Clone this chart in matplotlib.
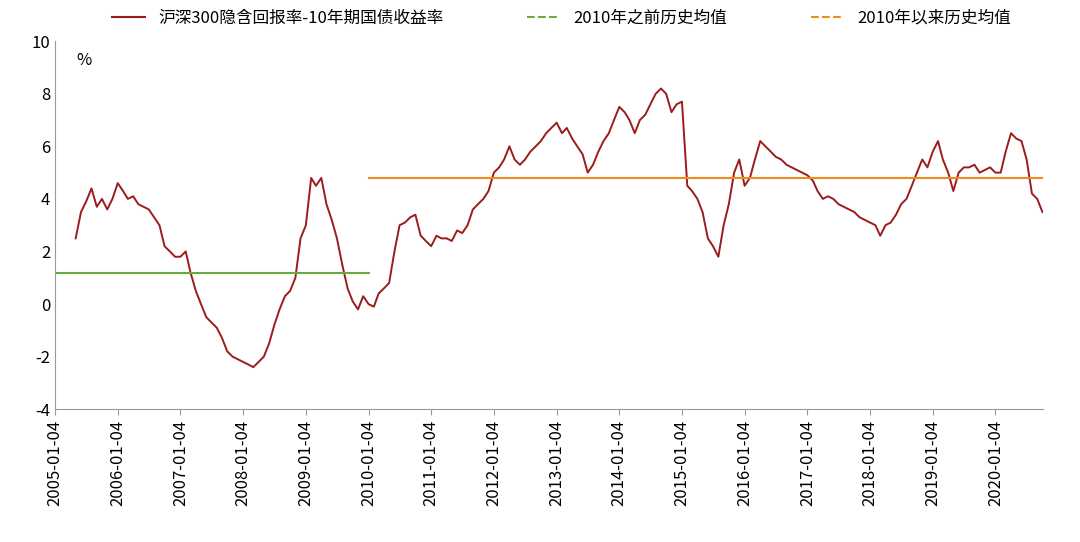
import pandas as pd
import matplotlib
matplotlib.use("Agg")
import matplotlib.pyplot as plt
from matplotlib import font_manager
from matplotlib.lines import Line2D

# pick up an installed CJK font by file name
cjk = [f for f in font_manager.findSystemFonts() if 'CJK' in f or 'cjk' in f]
fam = 'DejaVu Sans'
for f in sorted(cjk, key=lambda p: ('SC' not in p, p)):
    try:
        font_manager.fontManager.addfont(f)
        fam = font_manager.FontProperties(fname=f).get_name()
        break
    except Exception:
        pass
plt.rcParams['font.family'] = [fam, 'DejaVu Sans']
plt.rcParams['axes.unicode_minus'] = False

# monthly values (start 2005-04)
values = [
    2.5, 3.5, 3.9, 4.4, 3.7, 4.0, 3.6, 4.0, 4.6,                      # 2005 Apr-Dec
    4.3, 4.0, 4.1, 3.8, 3.7, 3.6, 3.3, 3.0, 2.2, 2.0, 1.8, 1.8,         # 2006
    2.0, 1.2, 0.5, 0.0, -0.5, -0.7, -0.9, -1.3, -1.8, -2.0, -2.1, -2.2, # 2007
    -2.3, -2.4, -2.2, -2.0, -1.5, -0.8, -0.2, 0.3, 0.5, 1.0, 2.5, 3.0,  # 2008
    4.8, 4.5, 4.8, 3.8, 3.2, 2.5, 1.5, 0.6, 0.1, -0.2, 0.3, 0.0,        # 2009
    -0.1, 0.4, 0.6, 0.8, 2.0, 3.0, 3.1, 3.3, 3.4, 2.6, 2.4, 2.2,        # 2010
    2.6, 2.5, 2.5, 2.4, 2.8, 2.7, 3.0, 3.6, 3.8, 4.0, 4.3, 5.0,         # 2011
    5.2, 5.5, 6.0, 5.5, 5.3, 5.5, 5.8, 6.0, 6.2, 6.5, 6.7, 6.9,         # 2012
    6.5, 6.7, 6.3, 6.0, 5.7, 5.0, 5.3, 5.8, 6.2, 6.5, 7.0, 7.5,         # 2013
    7.3, 7.0, 6.5, 7.0, 7.2, 7.6, 8.0, 8.2, 8.0, 7.3, 7.6, 7.7,         # 2014
    4.5, 4.3, 4.0, 3.5, 2.5, 2.2, 1.8, 3.0, 3.8, 5.0, 5.5, 4.5,         # 2015
    4.8, 5.5, 6.2, 6.0, 5.8, 5.6, 5.5, 5.3, 5.2, 5.1, 5.0, 4.9,         # 2016
    4.7, 4.3, 4.0, 4.1, 4.0, 3.8, 3.7, 3.6, 3.5, 3.3, 3.2, 3.1,         # 2017
    3.0, 2.6, 3.0, 3.1, 3.4, 3.8, 4.0, 4.5, 5.0, 5.5, 5.2, 5.8,         # 2018
    6.2, 5.5, 5.0, 4.3, 5.0, 5.2, 5.2, 5.3, 5.0, 5.1, 5.2, 5.0,         # 2019
    5.0, 5.8, 6.5, 6.3, 6.2, 5.5, 4.2, 4.0, 3.5,                       # 2020 Jan-Sep
]
dates = pd.date_range("2005-04-04", periods=len(values), freq="MS") + pd.Timedelta(days=3)
mean_before = 1.2
mean_after = 4.8
labels = ['沪深300隐含回报率-10年期国债收益率', '2010年之前历史均值', '2010年以来历史均值']

fig = plt.figure(figsize=(10.8, 5.42), dpi=100)
ax = fig.add_axes([0.051, 0.245, 0.915, 0.679])

ax.plot(dates, values, color='#9b1c1c', lw=1.4)
ax.plot([pd.Timestamp("2005-01-04"), pd.Timestamp("2010-01-04")], [mean_before] * 2,
        color='#6aaa3a', lw=1.5)
ax.plot([pd.Timestamp("2010-01-04"), dates[-1]], [mean_after] * 2,
        color='#f08a1c', lw=1.5)

ax.set_xlim(pd.Timestamp("2005-01-04"), dates[-1] + pd.Timedelta(days=5))
ax.set_ylim(-4, 10)
ax.set_yticks(range(-4, 11, 2))
ticks = [pd.Timestamp(f"{y}-01-04") for y in range(2005, 2021)]
ax.set_xticks(ticks)
ax.set_xticklabels([t.strftime("%Y-%m-%d") for t in ticks], rotation=90, fontsize=12)
ax.tick_params(axis='y', labelsize=12, length=0)
ax.tick_params(axis='x', length=4, color='#999999')
for s in ['top', 'right']:
    ax.spines[s].set_visible(False)
for s in ['left', 'bottom']:
    ax.spines[s].set_color('#999999')
ax.text(0.022, 0.935, '%', transform=ax.transAxes, fontsize=12)

handles = [Line2D([], [], color='#9b1c1c', lw=1.5),
           Line2D([], [], color='#6aaa3a', lw=1.5, ls='--'),
           Line2D([], [], color='#f08a1c', lw=1.5, ls='--')]
fig.legend(handles, labels, loc='upper center', bbox_to_anchor=(0.52, 1.01), ncol=3,
           frameon=False, fontsize=12, columnspacing=5, handlelength=2)

fig.savefig("out.png", dpi=100)
